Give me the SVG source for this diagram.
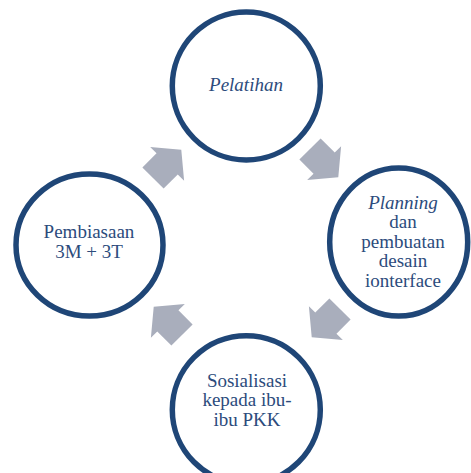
<svg xmlns="http://www.w3.org/2000/svg" width="471" height="473" viewBox="0 0 471 473">
  <style>
    .node { fill: #ffffff; stroke: #1f4677; stroke-width: 5.5; }
    .lbl { font-family: "Liberation Serif", "DejaVu Serif", serif; font-size: 19px; fill: #2c4b7c; text-anchor: middle; }
    .it { font-style: italic; }
    .arr { fill: #a9aebc; }
  </style>
  <defs>
    <polygon id="arrow" points="0,-15 20,-15 20,-24 40,0 20,24 20,15 0,15"/>
  </defs>
  <rect width="471" height="473" fill="#ffffff"/>
  <g id="connectors">
    <use href="#arrow" class="arr" transform="translate(153,178) rotate(-45)"/>
    <use href="#arrow" class="arr" transform="translate(310,149) rotate(45)"/>
    <use href="#arrow" class="arr" transform="translate(340,309) rotate(135)"/>
    <use href="#arrow" class="arr" transform="translate(182,335) rotate(-135)"/>
  </g>
  <g id="node-pelatihan">
    <ellipse class="node" cx="246.3" cy="86" rx="74" ry="74"/>
    <text class="lbl it" x="246" y="91">Pelatihan</text>
  </g>
  <g id="node-planning">
    <ellipse class="node" cx="398.7" cy="242" rx="69" ry="74"/>
    <text class="lbl" x="403" y="208.5"><tspan class="it">Planning</tspan></text>
    <text class="lbl" x="403" y="228">dan</text>
    <text class="lbl" x="403" y="247.5">pembuatan</text>
    <text class="lbl" x="403" y="267">desain</text>
    <text class="lbl" x="403" y="286.5">ionterface</text>
  </g>
  <g id="node-sosialisasi">
    <ellipse class="node" cx="246.3" cy="409.7" rx="74" ry="74"/>
    <text class="lbl" x="247" y="386.5">Sosialisasi</text>
    <text class="lbl" x="247" y="406">kepada ibu-</text>
    <text class="lbl" x="247" y="425.5">ibu PKK</text>
  </g>
  <g id="node-pembiasaan">
    <ellipse class="node" cx="89.5" cy="245" rx="73.5" ry="71"/>
    <text class="lbl" x="89" y="238">Pembiasaan</text>
    <text class="lbl" x="89" y="257.5">3M + 3T</text>
  </g>
</svg>
